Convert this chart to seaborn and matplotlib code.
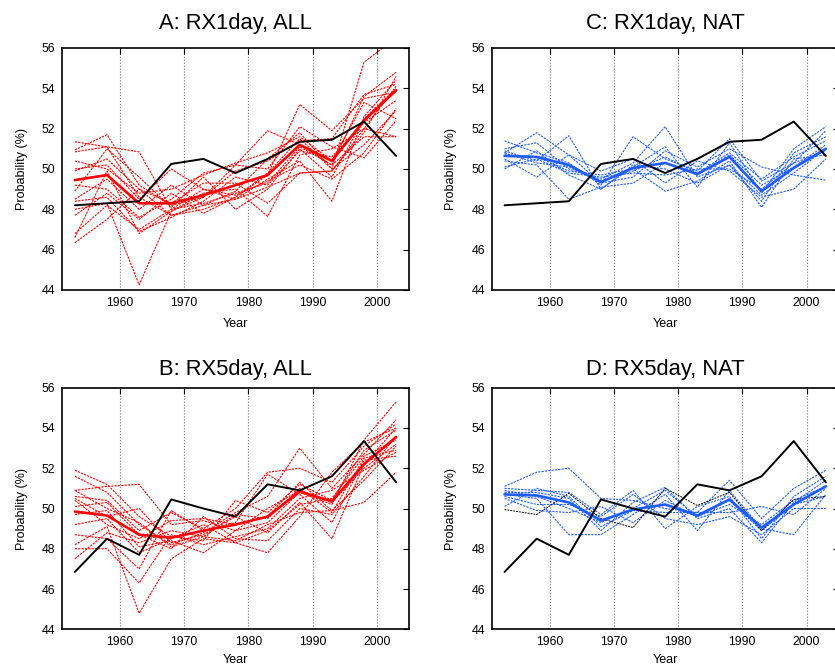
#!/usr/bin/env python3
"""
Probability of exceedance for RX1day / RX5day: ALL vs NAT forcing ensembles
against the observed series.
"""

import matplotlib
matplotlib.use('Agg')
import pandas as pd
import matplotlib.pyplot as plt
import seaborn as sns

# %% --- Data ---
years = [1953, 1958, 1963, 1968, 1973, 1978, 1983, 1988, 1993, 1998, 2003]

obs_rx1 = [48.2, 48.3, 48.4, 50.25, 50.5, 49.8, 50.5, 51.35, 51.45, 52.35, 50.65]
obs_rx5 = [46.85, 48.5, 47.7, 50.45, 50.0, 49.6, 51.2, 50.9, 51.6, 53.35, 51.3]

mean_rx1_all = [49.45, 49.7, 48.3, 48.3, 48.7, 49.2, 49.7, 51.2, 50.4, 52.4, 53.9]
mean_rx5_all = [49.85, 49.65, 48.7, 48.55, 48.9, 49.2, 49.6, 50.85, 50.35, 52.2, 53.55]
mean_rx1_nat = [50.65, 50.6, 50.2, 49.35, 50.05, 50.3, 49.75, 50.6, 48.9, 50.05, 51.0]
mean_rx5_nat = [50.7, 50.65, 50.3, 49.4, 49.95, 50.2, 49.65, 50.45, 49.05, 50.2, 51.1]

members_rx1_all = [
    [51.35, 51.1, 50.85, 48.0, 48.3, 48.8, 49.3, 51.1, 50.2, 53.6, 54.8],
    [50.95, 51.7, 49.2, 48.2, 48.6, 49.9, 50.4, 51.4, 51.5, 53.7, 54.2],
    [50.85, 51.1, 48.6, 47.7, 48.0, 48.6, 49.7, 53.2, 51.9, 53.5, 53.8],
    [50.4, 50.0, 48.8, 49.0, 49.7, 50.3, 50.8, 51.6, 50.4, 53.3, 52.5],
    [50.0, 50.2, 48.5, 50.0, 49.0, 48.5, 49.5, 50.4, 48.4, 52.6, 54.4],
    [49.9, 50.5, 49.0, 48.3, 49.3, 49.3, 48.3, 49.8, 49.9, 52.0, 51.6],
    [49.2, 49.0, 47.6, 48.5, 49.8, 50.2, 51.9, 51.2, 50.2, 51.6, 51.6],
    [48.9, 51.0, 49.6, 48.1, 49.6, 48.0, 49.0, 51.0, 49.6, 52.5, 54.0],
    [48.5, 49.5, 48.0, 49.2, 48.2, 48.9, 50.5, 51.8, 50.0, 55.3, 56.5],
    [48.4, 48.6, 46.9, 47.6, 48.4, 49.6, 49.2, 50.9, 50.6, 52.3, 53.4],
    [48.0, 48.3, 44.25, 47.9, 48.8, 49.0, 47.65, 50.7, 51.0, 52.0, 54.1],
    [47.7, 48.8, 47.5, 48.8, 47.8, 48.6, 49.8, 51.5, 50.0, 51.2, 52.9],
    [46.8, 48.2, 47.0, 48.0, 49.0, 48.7, 49.4, 50.2, 49.5, 50.8, 53.0],
    [46.6, 49.9, 46.8, 47.9, 48.6, 50.2, 50.0, 52.1, 51.1, 50.55, 52.4],
    [46.35, 47.5, 49.0, 47.7, 48.2, 48.5, 49.1, 49.8, 49.9, 51.8, 54.6],
]

members_rx5_all = [
    [51.9, 51.2, 49.6, 48.6, 48.4, 50.4, 49.8, 51.2, 50.4, 52.9, 53.9],
    [51.6, 50.8, 49.2, 48.2, 48.8, 49.8, 50.6, 53.0, 51.0, 52.7, 54.4],
    [50.9, 51.1, 51.2, 49.2, 49.4, 48.9, 49.3, 50.8, 50.2, 53.4, 55.3],
    [50.6, 50.4, 48.9, 49.8, 49.0, 50.0, 51.8, 52.0, 51.3, 53.1, 54.2],
    [50.5, 49.6, 50.0, 48.3, 48.7, 49.6, 48.8, 50.3, 48.5, 52.2, 54.0],
    [50.4, 49.2, 48.5, 49.4, 49.5, 49.2, 49.6, 51.3, 49.9, 50.3, 51.8],
    [50.1, 50.3, 48.7, 48.0, 49.6, 48.5, 48.4, 50.0, 49.7, 51.6, 53.6],
    [49.7, 49.9, 48.1, 48.4, 47.8, 48.9, 50.0, 50.9, 50.3, 52.0, 53.2],
    [48.7, 48.5, 47.0, 49.9, 48.9, 49.3, 51.7, 50.7, 49.3, 52.4, 52.6],
    [48.2, 49.1, 44.8, 47.5, 48.5, 48.3, 47.8, 49.6, 51.8, 53.3, 54.0],
    [48.0, 48.0, 46.3, 48.7, 48.2, 48.6, 49.0, 50.5, 50.9, 51.9, 52.8],
    [47.5, 48.8, 48.3, 48.9, 48.6, 48.4, 49.2, 49.8, 49.9, 51.4, 53.1],
    [49.2, 49.5, 47.8, 48.5, 49.2, 48.3, 48.9, 50.2, 50.5, 52.6, 53.4],
    [50.9, 50.0, 49.3, 48.1, 48.6, 49.7, 49.5, 51.0, 49.8, 52.5, 52.9],
]

members_rx1_nat = [
    [51.4, 50.8, 50.3, 49.2, 51.6, 50.5, 49.9, 51.5, 49.4, 50.3, 51.9],
    [51.0, 51.3, 50.0, 49.5, 50.3, 52.1, 49.6, 50.2, 48.4, 50.8, 51.6],
    [50.9, 50.4, 51.65, 49.0, 50.1, 51.1, 49.1, 51.3, 48.8, 51.0, 52.1],
    [50.8, 51.8, 50.7, 49.3, 49.6, 50.9, 50.1, 51.0, 50.1, 49.7, 49.45],
    [50.7, 50.6, 49.9, 49.7, 50.0, 48.9, 49.4, 50.4, 48.1, 50.5, 50.7],
    [50.5, 49.6, 50.7, 49.9, 50.5, 49.3, 50.4, 49.9, 48.6, 49.0, 50.5],
    [50.4, 50.2, 48.5, 49.1, 49.3, 50.3, 49.7, 50.7, 49.2, 50.1, 51.2],
    [50.1, 50.5, 49.8, 49.6, 49.8, 49.7, 50.0, 50.0, 49.0, 50.3, 50.9],
    [50.0, 50.9, 49.7, 49.0, 50.2, 50.0, 49.3, 50.2, 48.7, 49.8, 51.0],
    [50.8, 50.3, 50.1, 49.4, 49.9, 50.6, 49.8, 50.8, 49.5, 50.6, 51.4],
]

members_rx5_nat = [
    [51.1, 51.8, 52.0, 50.5, 50.4, 50.0, 49.8, 51.4, 49.5, 51.0, 51.9],
    [51.0, 50.9, 50.8, 49.7, 50.9, 49.0, 50.1, 50.6, 48.5, 50.6, 51.6],
    [50.8, 50.8, 50.5, 48.9, 50.3, 51.05, 49.5, 50.0, 48.3, 50.3, 51.4],
    [50.7, 50.5, 48.7, 48.7, 49.7, 50.7, 48.9, 50.9, 49.0, 48.7, 50.7],
    [50.6, 50.2, 50.2, 49.6, 50.7, 49.5, 49.2, 49.6, 48.7, 50.0, 50.0],
    [50.5, 49.9, 49.8, 50.1, 49.3, 50.4, 49.6, 50.2, 49.2, 50.4, 51.1],
    [50.1, 51.0, 50.6, 49.1, 49.9, 49.8, 49.8, 49.8, 50.1, 49.7, 51.0],
    [50.9, 50.6, 50.0, 49.3, 50.0, 50.9, 49.6, 50.4, 48.9, 50.2, 50.6],
]
# one member in panel D is drawn in black
black_member_rx5_nat = [49.95, 49.7, 50.75, 49.5, 49.05, 51.0, 50.15, 50.8, 48.9, 50.45, 50.6]

# %% --- Style ---
sns.set_style("white")
plt.rcParams['font.family'] = ['Liberation Sans', 'DejaVu Sans']
plt.rcParams['text.color'] = 'black'
plt.rcParams['axes.labelcolor'] = 'black'

RED = '#ff0000'
BLUE = '#1f5cff'
W, H = 835, 667


def to_long(members):
    rows = []
    for i, m in enumerate(members):
        for yr, v in zip(years, m):
            rows.append({'year': yr, 'value': v, 'member': i})
    return pd.DataFrame(rows)


def draw_panel(ax, title, members, mean, obs, color, title_pad, xlabel_pad, extra_black=None):
    df = to_long(members)
    sns.lineplot(data=df, x='year', y='value', units='member', estimator=None,
                 color=color, lw=0.8, dashes=False, ax=ax, legend=False)
    for line in ax.lines:
        line.set_linestyle((0, (2, 1)))
    if extra_black is not None:
        sns.lineplot(x=years, y=extra_black, color='black', lw=0.7, ax=ax)
        ax.lines[-1].set_linestyle((0, (2, 1)))
    sns.lineplot(x=years, y=mean, color=color, lw=1.9, ax=ax)
    sns.lineplot(x=years, y=obs, color='black', lw=1.4, ax=ax)

    ax.set_xlim(1951, 2005)
    ax.set_ylim(44, 56)
    ax.set_xticks([1960, 1970, 1980, 1990, 2000])
    ax.set_yticks([44, 46, 48, 50, 52, 54, 56])
    ax.grid(axis='x', linestyle=':', color='#777777', lw=0.8)
    ax.grid(axis='y', visible=False)
    ax.tick_params(direction='in', length=4, width=0.8, labelsize=8.8,
                   top=True, right=True, pad=5, colors='black')
    for s in ax.spines.values():
        s.set_linewidth(1.2)
        s.set_color('black')
    ax.set_xlabel('Year', fontsize=9, labelpad=xlabel_pad)
    ax.set_ylabel('Probability (%)', fontsize=9, labelpad=10)
    ax.set_title(title, fontsize=15.8, pad=title_pad, color='black')


# %% --- Figure ---
fig = plt.figure(figsize=(W / 100, H / 100), dpi=100)


def axes_px(left, top, right, bottom):
    return fig.add_axes([left / W, 1 - bottom / H, (right - left) / W, (bottom - top) / H])


axA = axes_px(62, 48, 409, 290)
axC = axes_px(491.7, 48, 838.7, 290)
axB = axes_px(62, 387.7, 409, 629.3)
axD = axes_px(491.7, 387.7, 838.7, 629.3)

draw_panel(axA, 'A: RX1day, ALL', members_rx1_all, mean_rx1_all, obs_rx1, RED, 13.5, 6.5)
draw_panel(axC, 'C: RX1day, NAT', members_rx1_nat, mean_rx1_nat, obs_rx1, BLUE, 13.5, 6.5)
draw_panel(axB, 'B: RX5day, ALL', members_rx5_all, mean_rx5_all, obs_rx5, RED, 9.5, 4.5)
draw_panel(axD, 'D: RX5day, NAT', members_rx5_nat, mean_rx5_nat, obs_rx5, BLUE, 9.5, 4.5,
           extra_black=black_member_rx5_nat)

fig.savefig('out.png', dpi=100)
